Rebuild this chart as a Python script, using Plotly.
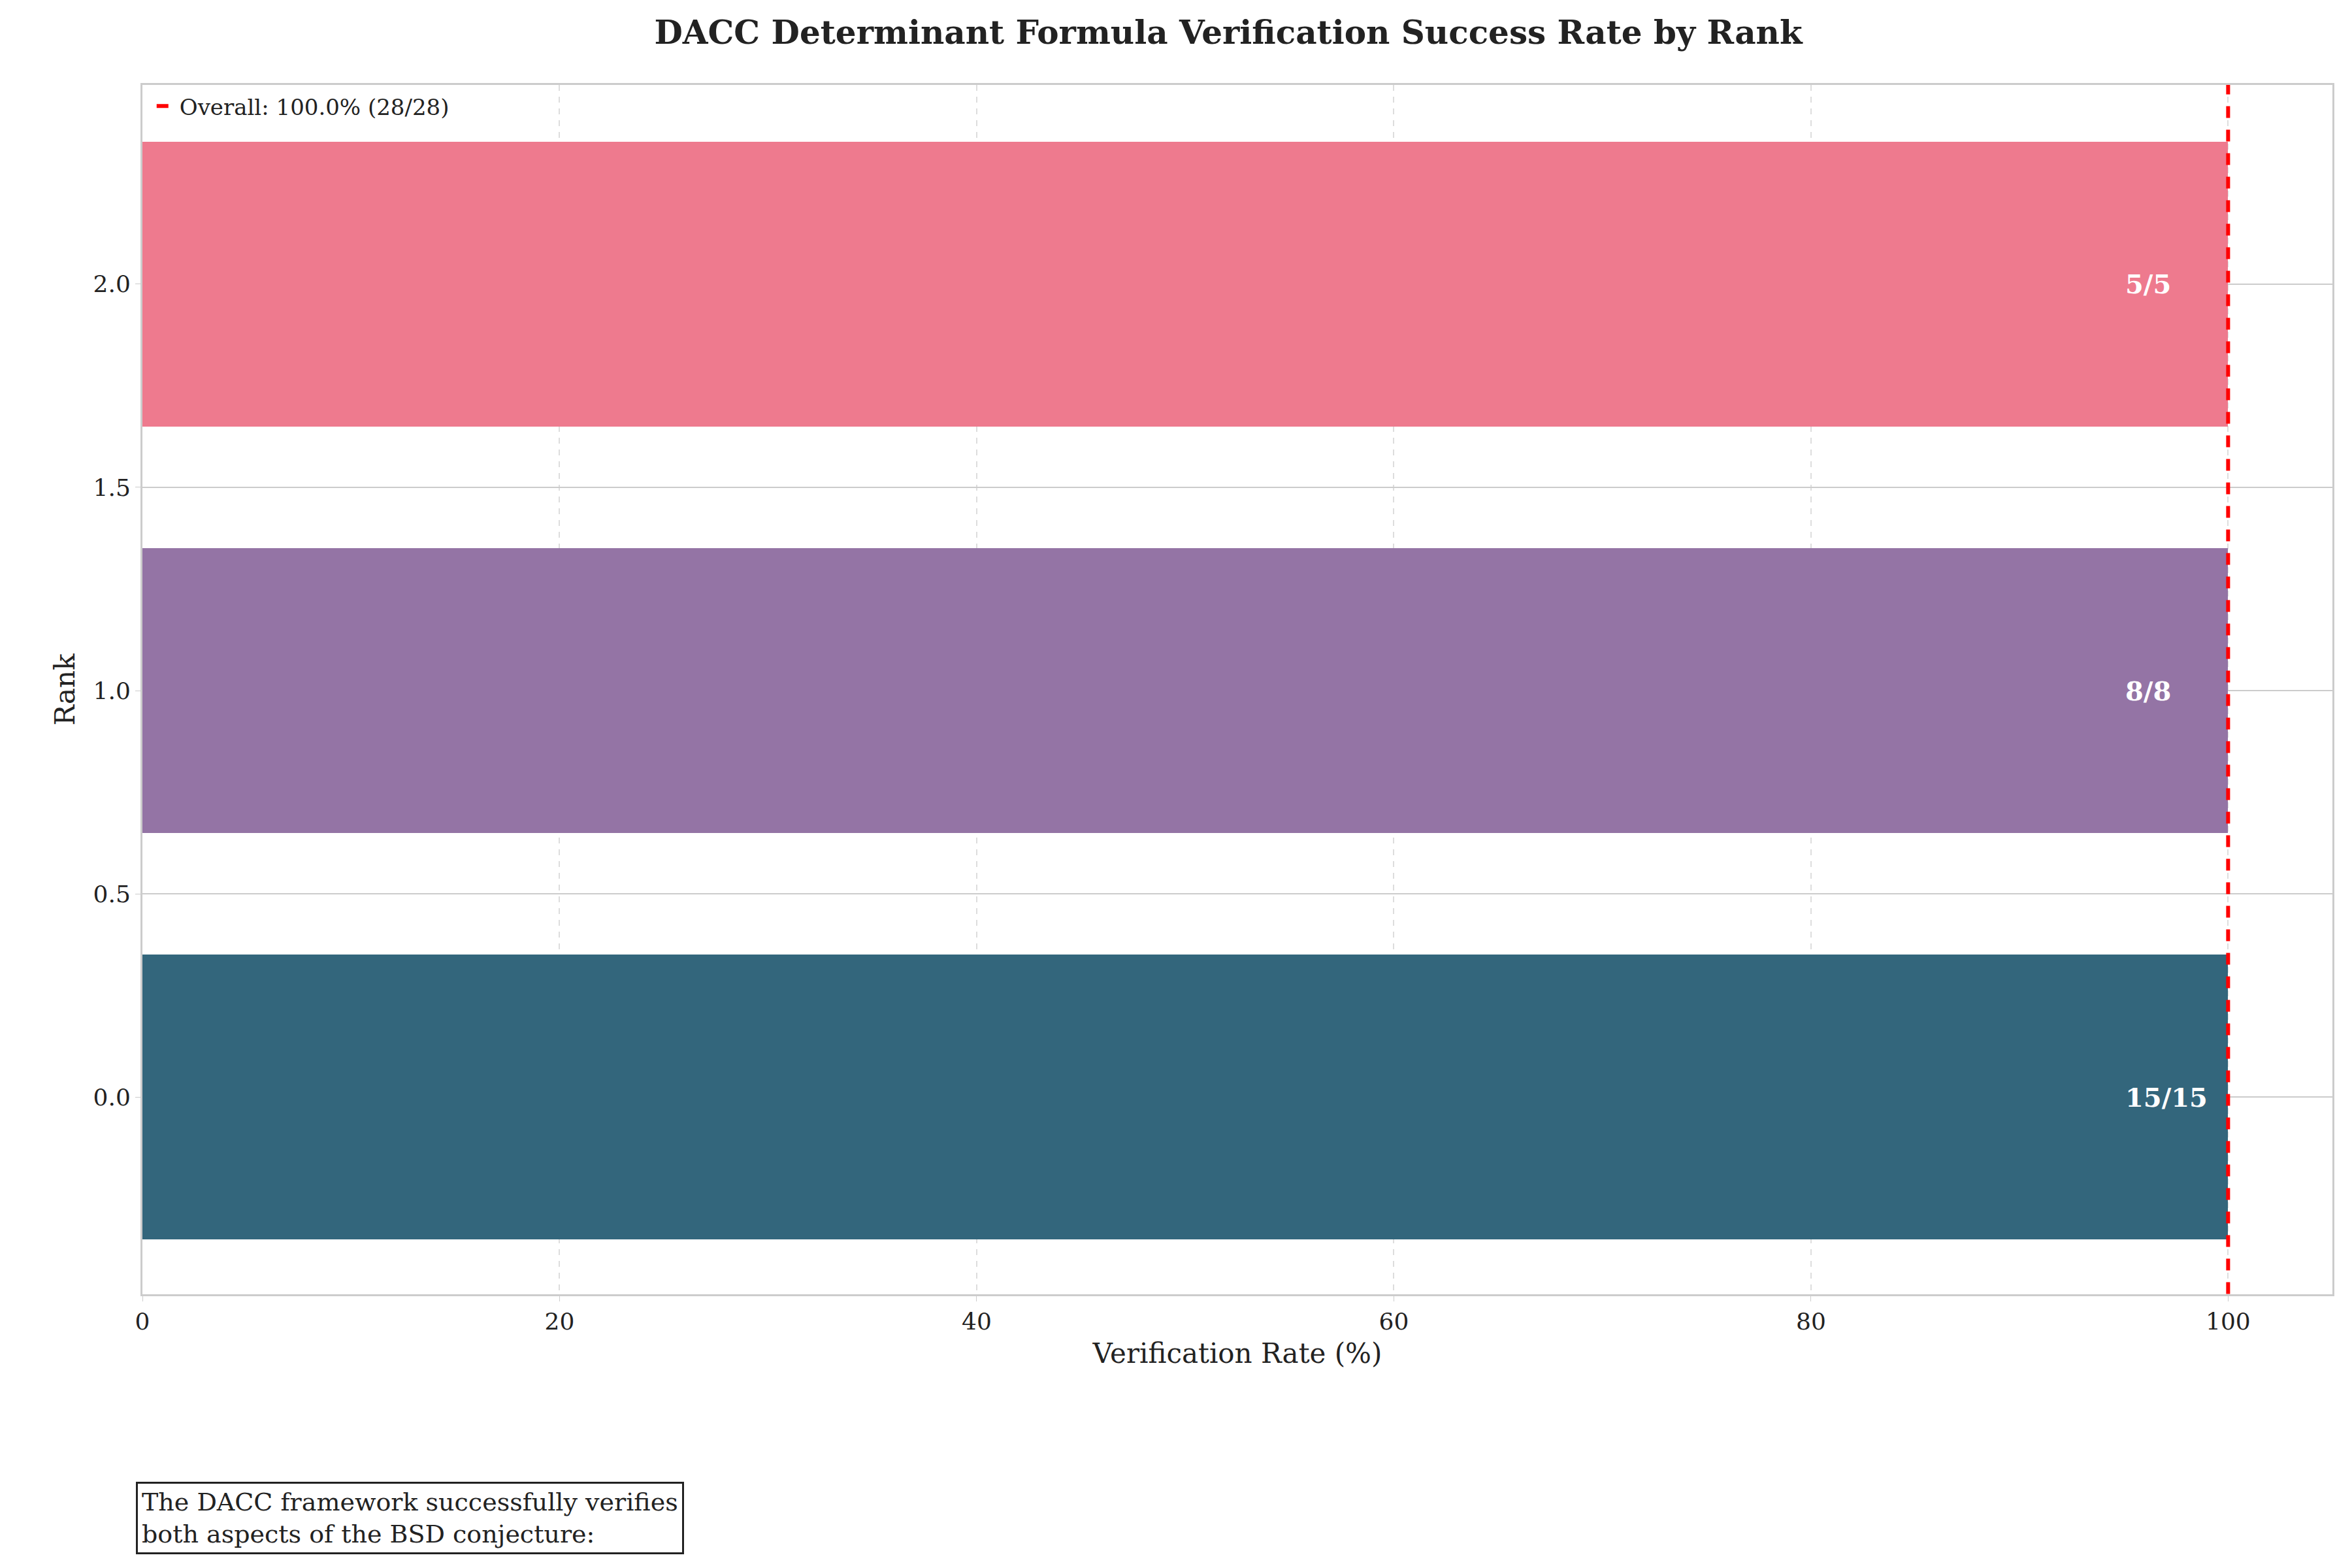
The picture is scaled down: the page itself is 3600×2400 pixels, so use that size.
import plotly.graph_objects as go

ranks = [0, 1, 2]
rates = [100.0, 100.0, 100.0]
bar_labels = ["15/15", "8/8", "5/5"]
bar_colors = ["#33667c", "#9474a5", "#ee7a8e"]
overall_rate = 100.0
overall_label = "Overall: 100.0% (28/28)"
note_text = "The DACC framework successfully verifies<br>both aspects of the BSD conjecture:"

FONT = "DejaVu Serif"

fig = go.Figure()
fig.add_trace(go.Bar(
    x=rates, y=ranks, orientation="h", width=0.7,
    marker=dict(color=bar_colors, line=dict(width=0)),
    showlegend=False
))
fig.add_trace(go.Scatter(
    x=[overall_rate, overall_rate], y=[-0.6, 2.6], mode="lines",
    line=dict(color="red", width=6, dash="dash"),
    name=overall_label
))

annotations = [dict(x=95, y=r, text=f"<b>{t}</b>", showarrow=False, xanchor="left",
                    font=dict(family=FONT, size=40, color="white"))
               for r, t in zip(ranks, bar_labels)]
annotations.append(dict(
    x=-0.003, y=-0.215, xref="paper", yref="paper", xanchor="left", yanchor="bottom",
    text=note_text, align="left", showarrow=False,
    font=dict(family=FONT, size=38, color="#222"),
    bordercolor="#222", borderwidth=3, borderpad=6, bgcolor="white"
))

fig.update_layout(
    width=3600, height=2400,
    paper_bgcolor="white", plot_bgcolor="white",
    font=dict(family=FONT, size=36, color="#222"),
    title=dict(text="<b>DACC Determinant Formula Verification Success Rate by Rank</b>",
               x=0.52, xanchor="center", y=0.99, yanchor="top",
               font=dict(size=50, color="#222")),
    margin=dict(l=210, r=38, t=122, b=427),
    showlegend=True,
    legend=dict(x=0.005, y=0.998, xanchor="left", yanchor="top",
                bgcolor="rgba(0,0,0,0)", font=dict(size=34)),
    annotations=annotations,
    bargap=0
)
fig.update_xaxes(range=[0, 105], tickvals=[0, 20, 40, 60, 80, 100],
                 title=dict(text="Verification Rate (%)", font=dict(size=42), standoff=15),
                 showgrid=True, gridcolor="#dddddd", griddash="dash", gridwidth=2,
                 showline=True, linecolor="#cccccc", linewidth=3, mirror=True,
                 ticks="outside", ticklen=8, tickcolor="#cccccc", zeroline=False)
fig.update_yaxes(range=[-0.485, 2.49], tickvals=[0, 0.5, 1, 1.5, 2],
                 ticktext=["0.0", "0.5", "1.0", "1.5", "2.0"],
                 title=dict(text="Rank", font=dict(size=42), standoff=15),
                 showgrid=True, gridcolor="#cccccc", gridwidth=2,
                 showline=True, linecolor="#cccccc", linewidth=3, mirror=True,
                 ticks="outside", ticklen=8, tickcolor="#cccccc", zeroline=False)

fig.write_html("out.html")
